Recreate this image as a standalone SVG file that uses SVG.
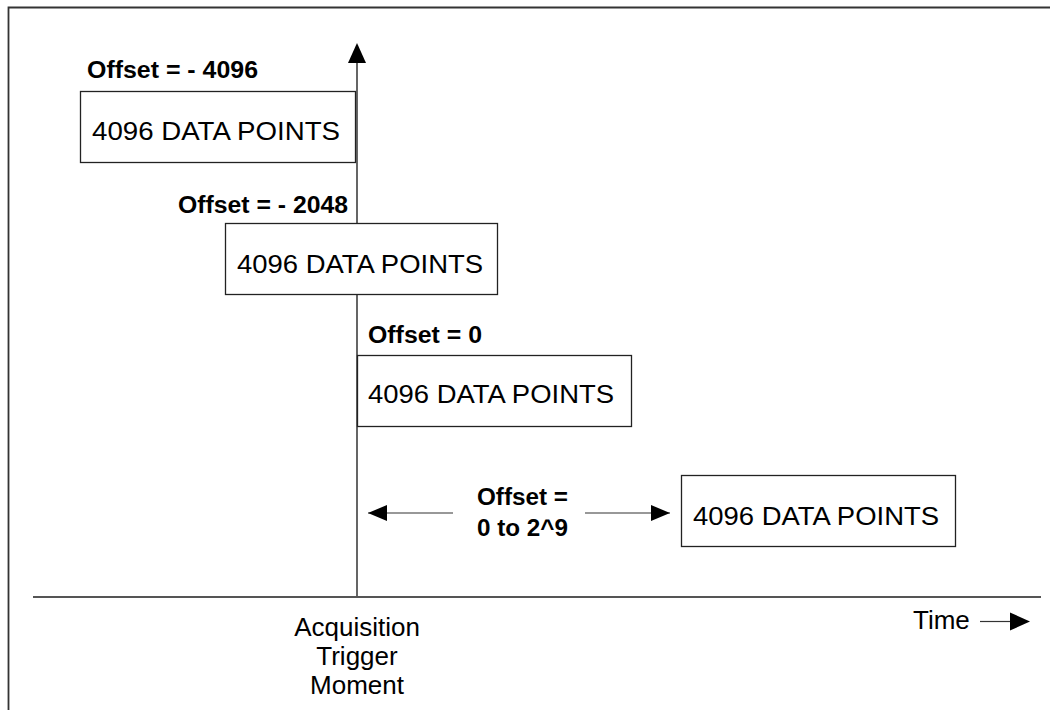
<svg xmlns="http://www.w3.org/2000/svg" width="1050" height="710" viewBox="0 0 1050 710">
<style>
.box{fill:#fff;stroke:#222;stroke-width:1.3}
.lbl{font-family:"Liberation Sans",Arial,sans-serif;font-size:26px;fill:#000}
.bold{font-family:"Liberation Sans",Arial,sans-serif;font-size:23px;font-weight:bold;fill:#000}
.ln{stroke:#333;stroke-width:1.2;fill:none}
.ax{stroke:#555;stroke-width:1.8;fill:none}
</style>
<defs>
<marker id="ah" viewBox="0 0 19 16" refX="19" refY="8" markerWidth="19" markerHeight="16" markerUnits="userSpaceOnUse" orient="auto">
<path d="M0,0 L19,8 L0,16 Z" fill="#000"/>
</marker>
</defs>
<rect width="1050" height="710" fill="#fff"/>
<g id="frame">
<path d="M8.5,710 V7.5 H1050" stroke="#333" stroke-width="1.8" fill="none"/>
</g>
<g id="connectors">
<line class="ax" x1="33" y1="597" x2="1041" y2="597"/>
<line class="ax" x1="357" y1="597" x2="357" y2="60"/>
<path d="M357,43 L366,63 L348,63 Z" fill="#000"/>
<line class="ln" x1="453" y1="513" x2="368" y2="513" marker-end="url(#ah)"/>
<line class="ln" x1="585" y1="513" x2="670" y2="513" marker-end="url(#ah)"/>
<path d="M980,621.5 H1012" class="ln"/>
<path d="M1030,621.5 L1010,612.5 L1010,630.5 Z" fill="#000"/>
</g>
<g id="box1">
<rect class="box" x="80.5" y="91.5" width="275" height="71"/>
<text class="lbl" x="92" y="140" textLength="248" lengthAdjust="spacingAndGlyphs">4096 DATA POINTS</text>
<text class="bold" x="87" y="78" textLength="171" lengthAdjust="spacingAndGlyphs">Offset = - 4096</text>
</g>
<g id="box2">
<rect class="box" x="225.5" y="223.5" width="272" height="71"/>
<text class="lbl" x="237" y="273" textLength="246" lengthAdjust="spacingAndGlyphs">4096 DATA POINTS</text>
<text class="bold" x="178" y="213" textLength="170" lengthAdjust="spacingAndGlyphs">Offset = - 2048</text>
</g>
<g id="box3">
<rect class="box" x="357.5" y="355.5" width="274" height="71"/>
<text class="lbl" x="368" y="403" textLength="246" lengthAdjust="spacingAndGlyphs">4096 DATA POINTS</text>
<text class="bold" x="368" y="343" textLength="114" lengthAdjust="spacingAndGlyphs">Offset = 0</text>
</g>
<g id="box4">
<rect class="box" x="681.5" y="475.5" width="274" height="71"/>
<text class="lbl" x="693" y="525" textLength="246" lengthAdjust="spacingAndGlyphs">4096 DATA POINTS</text>
</g>
<g id="offsetRange">
<text class="bold" x="477" y="505" textLength="91" lengthAdjust="spacingAndGlyphs">Offset =</text>
<text class="bold" x="477" y="536" textLength="91" lengthAdjust="spacingAndGlyphs">0 to 2^9</text>
</g>
<g id="trigger">
<text class="lbl" x="357" y="636" text-anchor="middle">Acquisition</text>
<text class="lbl" x="357" y="665" text-anchor="middle">Trigger</text>
<text class="lbl" x="357" y="694" text-anchor="middle">Moment</text>
</g>
<g id="time">
<text class="lbl" x="913" y="629">Time</text>
</g>
</svg>
